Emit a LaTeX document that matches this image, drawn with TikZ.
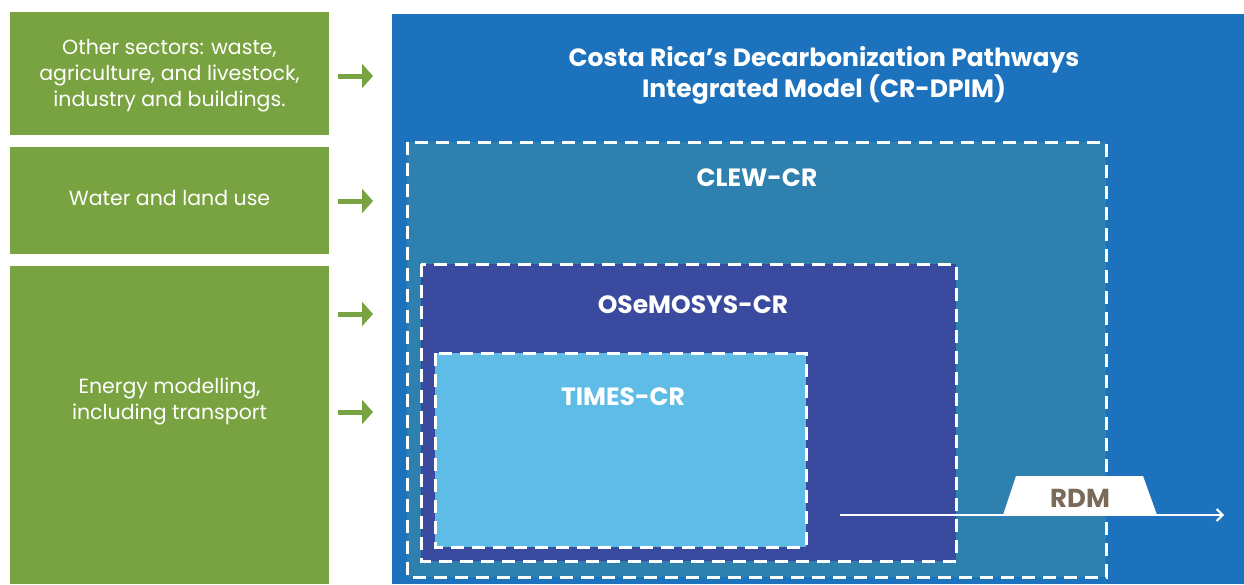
\documentclass[tikz,border=0pt]{standalone}
\usepackage{fontspec}
\setmainfont{Poppins}
\usetikzlibrary{arrows.meta}
\definecolor{leafgreen}{HTML}{79A340}
\definecolor{bigblue}{HTML}{1C72BC}
\definecolor{clewc}{HTML}{2E80AF}
\definecolor{osec}{HTML}{3A4B9F}
\definecolor{timesc}{HTML}{5FBCE6}
\definecolor{rdmtext}{HTML}{7A6A5A}
\tikzset{
  sector/.style={fill=leafgreen, draw=none, text=white, font=\fontsize{20.5}{26}\selectfont, align=center},
  dashbox/.style={draw=white, line width=3pt, dash pattern=on 13pt off 8pt},
  boxtitle/.style={text=white, font=\fontsize{25}{31}\selectfont\bfseries, align=center},
  greenarrow/.style={draw=leafgreen, line width=5pt, -{Triangle[length=11pt,width=24pt]}},
}
\begin{document}
\begin{tikzpicture}[x=1pt,y=-1pt]
\useasboundingbox (0,0) rectangle (1244,584);
% green sector boxes
\fill[leafgreen] (10,12) rectangle (329,135);
\node[sector] (s1) at (169.5,75.5) {Other sectors: waste,\\agriculture, and livestock,\\industry and buildings.};
\fill[leafgreen] (10,147) rectangle (329,254);
\node[sector] (s2) at (169.5,198) {Water and land use};
\fill[leafgreen] (10,266) rectangle (329,584);
\node[sector] (s3) at (169.5,401) {Energy modelling,\\including transport};
% arrows
\coordinate (a1s) at (338,76); \coordinate (a1e) at (373,76);
\coordinate (a2s) at (338,201); \coordinate (a2e) at (373,201);
\coordinate (a3s) at (338,314); \coordinate (a3e) at (373,314);
\coordinate (a4s) at (338,412); \coordinate (a4e) at (373,412);
\draw[greenarrow] (a1s) -- (a1e);
\draw[greenarrow] (a2s) -- (a2e);
\draw[greenarrow] (a3s) -- (a3e);
\draw[greenarrow] (a4s) -- (a4e);
% main model box
\fill[bigblue] (392,14) rectangle (1244,584);
\node[boxtitle] (title) at (824,75) {Costa Rica’s Decarbonization Pathways\\Integrated Model (CR-DPIM)};
% CLEW
\fill[clewc] (407,142) rectangle (1106,577);
\draw[dashbox] (407,142) rectangle (1106,577);
\node[boxtitle] (clew) at (757,178) {CLEW-CR};
% OSeMOSYS
\fill[osec] (421,264) rectangle (956,561);
\draw[dashbox] (421,264) rectangle (956,561);
\node[boxtitle] (ose) at (693,305) {OSeMOSYS-CR};
% TIMES
\fill[timesc] (435,353) rectangle (806,547);
\draw[dashbox] (435,353) rectangle (806,547);
\node[boxtitle] (times) at (623,397) {TIMES-CR};
% RDM
\coordinate (rdms) at (840,515);
\coordinate (rdme) at (1224,515);
\draw[white, line width=2pt, -{Straight Barb[length=6pt,width=12pt]}] (rdms) -- (rdme);
\fill[white] (1003,515) -- (1016,476) -- (1143,476) -- (1157,515) -- cycle;
\node[text=rdmtext, font=\fontsize{26}{31}\selectfont\bfseries] (rdm) at (1080,498) {RDM};
\end{tikzpicture}
\end{document}
